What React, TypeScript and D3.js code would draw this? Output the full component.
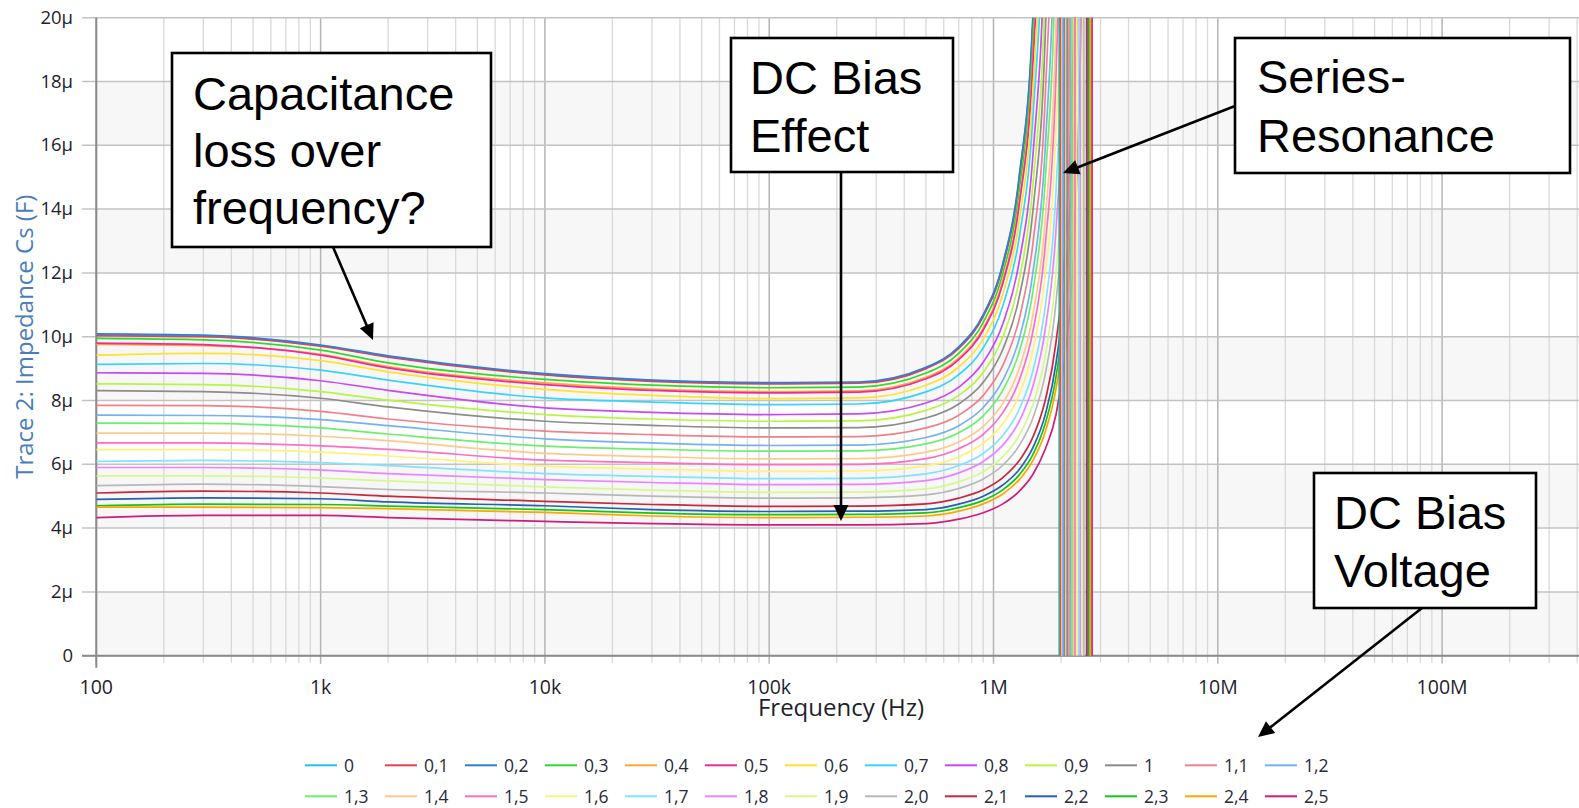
import React from "react";
import * as d3 from "d3";

// Shared sweep frequencies (Hz)
const FREQ = [100, 300, 1e3, 2e3, 1e4, 3e4, 1e5, 2.5e5, 5e5, 7e5, 9e5, 1.1e6, 1.3e6, 1.5e6, 1.7e6, 1.9e6, 2.1e6, 2.3e6, 2.5e6, 2.7e6];

// DC bias labels (V)
const BIAS_LABELS = ["0", "0,1", "0,2", "0,3", "0,4", "0,5", "0,6", "0,7", "0,8", "0,9", "1", "1,1", "1,2", "1,3", "1,4", "1,5", "1,6", "1,7", "1,8", "1,9", "2,0", "2,1", "2,2", "2,3", "2,4", "2,5"];

const SERIES_COLORS = ["#1fc3f3", "#e8414e", "#2f7ed8", "#2ddb2d", "#ffa53a", "#f0289a", "#ffe12e", "#35d3ff", "#c947f5", "#b6f542", "#8c8c8c", "#f2808a", "#74b2f0", "#6cf06c", "#ffc98a", "#ff6ec4", "#fff27a", "#82e2ff", "#e884ff", "#d4fa8a", "#b8b8b8", "#c8283c", "#2660b0", "#16c416", "#ffa500", "#d01c7c"];

// Cs in µF at FREQ (up to the last sweep point below series resonance)
const CS_0 = [10.06, 10.02, 9.72, 9.38, 8.82, 8.62, 8.54, 8.56, 9.02, 9.66, 10.67, 12.26, 14.95, 20.08, 33.06, 120.9];
const CS_01 = [10.03, 10.0, 9.7, 9.36, 8.8, 8.6, 8.52, 8.54, 9.0, 9.63, 10.63, 12.21, 14.86, 19.9, 32.5, 113.0];
const CS_02 = [10.09, 10.05, 9.74, 9.4, 8.84, 8.64, 8.56, 8.58, 9.04, 9.68, 10.69, 12.29, 14.99, 20.13, 33.13, 121.2];
const CS_03 = [9.95, 9.9, 9.58, 9.18, 8.66, 8.48, 8.4, 8.42, 8.86, 9.48, 10.45, 11.98, 14.53, 19.35, 31.14, 99.0];
const CS_04 = [9.76, 9.72, 9.45, 9.06, 8.55, 8.36, 8.28, 8.3, 8.73, 9.33, 10.27, 11.75, 14.22, 18.82, 29.87, 88.0];
const CS_05 = [9.8, 9.75, 9.42, 9.02, 8.5, 8.32, 8.24, 8.26, 8.68, 9.28, 10.21, 11.67, 14.1, 18.61, 29.33, 83.5];
const CS_06 = [9.42, 9.48, 9.25, 8.9, 8.35, 8.16, 8.06, 8.08, 8.48, 9.05, 9.93, 11.32, 13.59, 17.74, 27.29, 69.0];
const CS_07 = [9.13, 9.16, 8.95, 8.64, 8.08, 7.95, 7.87, 7.89, 8.27, 8.81, 9.65, 10.96, 13.08, 16.92, 25.43, 58.6];
const CS_08 = [8.87, 8.85, 8.62, 8.32, 7.77, 7.63, 7.56, 7.58, 7.92, 8.42, 9.2, 10.4, 12.32, 15.71, 22.92, 47.4];
const CS_09 = [8.52, 8.5, 8.28, 8.01, 7.56, 7.42, 7.35, 7.36, 7.69, 8.16, 8.88, 9.99, 11.75, 14.8, 21.03, 39.97];
const CS_10 = [8.31, 8.28, 8.07, 7.8, 7.35, 7.22, 7.14, 7.15, 7.45, 7.89, 8.57, 9.6, 11.22, 13.97, 19.39, 34.46, 251.7];
const CS_11 = [7.85, 7.84, 7.66, 7.42, 7.04, 6.93, 6.86, 6.87, 7.14, 7.54, 8.16, 9.1, 10.54, 12.95, 17.5, 28.97, 106.5];
const CS_12 = [7.54, 7.53, 7.4, 7.21, 6.8, 6.67, 6.59, 6.6, 6.84, 7.21, 7.78, 8.63, 9.92, 12.03, 15.9, 24.88, 66.9];
const CS_13 = [7.29, 7.28, 7.14, 6.95, 6.57, 6.47, 6.41, 6.42, 6.64, 6.99, 7.52, 8.32, 9.51, 11.44, 14.88, 22.49, 52.1];
const CS_14 = [6.98, 6.98, 6.88, 6.74, 6.34, 6.24, 6.17, 6.18, 6.38, 6.7, 7.19, 7.91, 8.99, 10.7, 13.67, 19.87, 40.02];
const CS_15 = [6.67, 6.67, 6.58, 6.47, 6.13, 6.05, 5.99, 6.0, 6.18, 6.49, 6.94, 7.62, 8.62, 10.18, 12.85, 18.21, 33.94, 681.8];
const CS_16 = [6.46, 6.46, 6.38, 6.26, 5.94, 5.85, 5.78, 5.79, 5.95, 6.23, 6.66, 7.27, 8.18, 9.59, 11.92, 16.4, 28.2, 134.9];
const CS_17 = [6.09, 6.12, 6.05, 5.96, 5.71, 5.62, 5.55, 5.56, 5.7, 5.96, 6.34, 6.9, 7.71, 8.94, 10.94, 14.6, 23.25, 66.8];
const CS_18 = [5.9, 5.9, 5.82, 5.71, 5.52, 5.43, 5.36, 5.37, 5.49, 5.73, 6.09, 6.6, 7.34, 8.46, 10.22, 13.36, 20.29, 47.19];
const CS_19 = [5.64, 5.64, 5.57, 5.48, 5.29, 5.19, 5.12, 5.13, 5.23, 5.45, 5.77, 6.24, 6.9, 7.88, 9.4, 12.02, 17.39, 34.2];
const CS_20 = [5.33, 5.38, 5.3, 5.21, 5.1, 5.0, 4.94, 4.95, 5.04, 5.24, 5.54, 5.97, 6.58, 7.46, 8.82, 11.1, 15.56, 27.89, 205.3];
const CS_21 = [5.1, 5.16, 5.1, 5.0, 4.84, 4.74, 4.68, 4.69, 4.76, 4.94, 5.2, 5.58, 6.11, 6.86, 8.0, 9.83, 13.17, 21.06, 60.7];
const CS_22 = [4.9, 4.95, 4.92, 4.82, 4.7, 4.58, 4.52, 4.53, 4.58, 4.75, 5.0, 5.35, 5.83, 6.53, 7.55, 9.17, 12.04, 18.34, 42.81];
const CS_23 = [4.7, 4.75, 4.74, 4.69, 4.58, 4.47, 4.42, 4.43, 4.48, 4.64, 4.87, 5.2, 5.66, 6.31, 7.27, 8.75, 11.33, 16.75, 35.04];
const CS_24 = [4.66, 4.66, 4.64, 4.61, 4.49, 4.38, 4.33, 4.34, 4.38, 4.53, 4.76, 5.07, 5.51, 6.12, 7.01, 8.38, 10.71, 15.42, 29.65];
const CS_25 = [4.33, 4.4, 4.4, 4.33, 4.21, 4.14, 4.1, 4.1, 4.14, 4.28, 4.48, 4.76, 5.15, 5.69, 6.47, 7.56, 9.6, 13.31, 23.05, 111.0];

const SERIES_CS = [CS_0, CS_01, CS_02, CS_03, CS_04, CS_05, CS_06, CS_07, CS_08, CS_09, CS_10, CS_11, CS_12, CS_13, CS_14, CS_15, CS_16, CS_17, CS_18, CS_19, CS_20, CS_21, CS_22, CS_23, CS_24, CS_25];

// Series-resonance frequency (Hz) where Cs jumps from +inf to -inf
const RESONANCE_HZ = [1.97e6, 1.975e6, 1.97e6, 1.985e6, 1.995e6, 2.0e6, 2.02e6, 2.04e6, 2.07e6, 2.1e6, 2.13e6, 2.17e6, 2.21e6, 2.24e6, 2.28e6, 2.31e6, 2.35e6, 2.4e6, 2.44e6, 2.49e6, 2.53e6, 2.6e6, 2.64e6, 2.67e6, 2.7e6, 2.75e6];

const Y_TICKS = [0, 2, 4, 6, 8, 10, 12, 14, 16, 18, 20];
const Y_TICK_LABELS = ["0", "2µ", "4µ", "6µ", "8µ", "10µ", "12µ", "14µ", "16µ", "18µ", "20µ"];
const X_DECADES = [100, 1e3, 1e4, 1e5, 1e6, 1e7, 1e8];
const X_TICK_LABELS = ["100", "1k", "10k", "100k", "1M", "10M", "100M"];
const X_MAX = 4e8;

const W = 1579;
const H = 808;
const PL = 96.3;
const PT = 17.7;
const PB = 655.7;
const DECADE_PX = 224.3;

const FONT = "'Open Sans', 'Noto Sans', sans-serif";
const ARIAL = "'Liberation Sans', Arial, sans-serif";

const ANNOTATIONS = [
  { box: [172, 53, 319, 194], textX: 193, base: [110, 167, 224], lines: ["Capacitance", "loss over", "frequency?"], arrow: [[333, 247], [373, 340]] },
  { box: [731, 38, 222, 134], textX: 750, base: [94, 152], lines: ["DC Bias", "Effect"], arrow: [[841, 172], [841, 521]] },
  { box: [1235, 38, 335, 135], textX: 1257, base: [93, 152], lines: ["Series-", "Resonance"], arrow: [[1235, 106], [1063, 173]] },
  { box: [1314, 473, 222, 135], textX: 1334, base: [529, 587], lines: ["DC Bias", "Voltage"], arrow: [[1422, 608], [1258, 737]] },
];

function Arrow({ from, to }: { from: number[]; to: number[] }) {
  const dx = to[0] - from[0];
  const dy = to[1] - from[1];
  const len = Math.hypot(dx, dy);
  const ux = dx / len;
  const uy = dy / len;
  const hl = 16;
  const hw = 7.5;
  const bx = to[0] - ux * hl;
  const by = to[1] - uy * hl;
  const pts = `${to[0]},${to[1]} ${bx - uy * hw},${by + ux * hw} ${bx + uy * hw},${by - ux * hw}`;
  return (
    <g>
      <line x1={from[0]} y1={from[1]} x2={bx + ux * 2} y2={by + uy * 2} stroke="#000" strokeWidth={2.6} />
      <polygon points={pts} fill="#000" />
    </g>
  );
}

export default function App() {
  const x = d3.scaleLog().domain([100, X_MAX]).range([PL, PL + DECADE_PX * Math.log10(X_MAX / 100)]);
  const y = d3.scaleLinear().domain([0, 20]).range([PB, PT]);

  const line = d3
    .line<[number, number]>()
    .x((d) => x(d[0]))
    .y((d) => y(d[1]))
    .curve(d3.curveMonotoneX);

  const minor: number[] = [];
  X_DECADES.forEach((dec) => {
    for (let m = 2; m <= 9; m++) {
      const f = dec * m;
      if (f <= X_MAX) minor.push(f);
    }
  });

  const bands = [0, 4, 8, 12, 16];

  return (
    <svg width={W} height={H} style={{ position: "absolute", left: 0, top: 0, background: "#fff" }}>
      <defs>
        <clipPath id="plot">
          <rect x={PL} y={PT} width={W - PL} height={PB - PT} />
        </clipPath>
      </defs>

      {/* bands */}
      {bands.map((b) => (
        <rect key={b} x={PL} y={y(b + 2)} width={W - PL} height={y(b) - y(b + 2)} fill="#f7f7f7" />
      ))}

      {/* minor vertical grid */}
      {minor.map((f) => (
        <line key={"m" + f} x1={x(f)} x2={x(f)} y1={PT} y2={PB + 7} stroke="#d9d9d9" strokeWidth={1.3} />
      ))}
      {/* decade vertical grid */}
      {X_DECADES.map((f) => (
        <line key={"d" + f} x1={x(f)} x2={x(f)} y1={PT} y2={PB + 8} stroke="#b5b5b5" strokeWidth={1.5} />
      ))}
      {/* horizontal grid */}
      {Y_TICKS.map((t) => (
        <line key={"h" + t} x1={82} x2={W} y1={y(t)} y2={y(t)} stroke="#c3c3c3" strokeWidth={1.5} />
      ))}

      {/* axes */}
      <line x1={PL} x2={PL} y1={PT} y2={PB + 12} stroke="#8a8a8a" strokeWidth={2} />
      <line x1={82} x2={W} y1={PB} y2={PB} stroke="#8a8a8a" strokeWidth={2} />

      {/* curves */}
      <g clipPath="url(#plot)">
        {SERIES_CS.map((vals, i) => (
          <path
            key={"c" + i}
            d={line(vals.map((v, j) => [FREQ[j], v] as [number, number])) || ""}
            fill="none"
            stroke={SERIES_COLORS[i]}
            strokeWidth={1.7}
          />
        ))}
        {RESONANCE_HZ.map((fr, i) => (
          <line
            key={"r" + i}
            x1={x(fr)}
            x2={x(fr)}
            y1={y(22)}
            y2={y(-1)}
            stroke={SERIES_COLORS[i]}
            strokeWidth={1.7}
          />
        ))}
      </g>

      {/* y tick labels */}
      {Y_TICKS.map((t, i) => (
        <text key={"yl" + t} x={73} y={y(t) + 6} textAnchor="end" fontFamily={FONT} fontSize={18.5} fill="#1e1e2e">
          {Y_TICK_LABELS[i]}
        </text>
      ))}
      {/* x tick labels */}
      {X_DECADES.map((f, i) => (
        <text key={"xl" + f} x={x(f)} y={694} textAnchor="middle" fontFamily={FONT} fontSize={19.5} fill="#1e1e2e">
          {X_TICK_LABELS[i]}
        </text>
      ))}

      {/* axis titles */}
      <text x={841} y={716} textAnchor="middle" fontFamily={FONT} fontSize={24} fill="#1e1e2e">
        Frequency (Hz)
      </text>
      <text
        transform={`translate(33, ${(PT + PB) / 2}) rotate(-90)`}
        textAnchor="middle"
        fontFamily={FONT}
        fontSize={24}
        fill="#4a7ebb"
      >
        Trace 2: Impedance Cs (F)
      </text>

      {/* legend */}
      {BIAS_LABELS.map((lab, i) => {
        const row = Math.floor(i / 13);
        const col = i % 13;
        const lx = 305 + col * 80;
        const ly = row === 0 ? 765.3 : 796.3;
        return (
          <g key={"lg" + i}>
            <line x1={lx} x2={lx + 32} y1={ly} y2={ly} stroke={SERIES_COLORS[i]} strokeWidth={2} />
            <text x={lx + 39} y={ly + 6.7} fontFamily={FONT} fontSize={17.5} fill="#2a2a3a">
              {lab}
            </text>
          </g>
        );
      })}

      {/* annotations */}
      {ANNOTATIONS.map((a, i) => (
        <g key={"a" + i}>
          <rect x={a.box[0]} y={a.box[1]} width={a.box[2]} height={a.box[3]} fill="#fff" stroke="#000" strokeWidth={2.6} />
          {a.lines.map((t, j) => (
            <text key={j} x={a.textX} y={a.base[j]} fontFamily={ARIAL} fontSize={47} fill="#000">
              {t}
            </text>
          ))}
          <Arrow from={a.arrow[0]} to={a.arrow[1]} />
        </g>
      ))}
    </svg>
  );
}
